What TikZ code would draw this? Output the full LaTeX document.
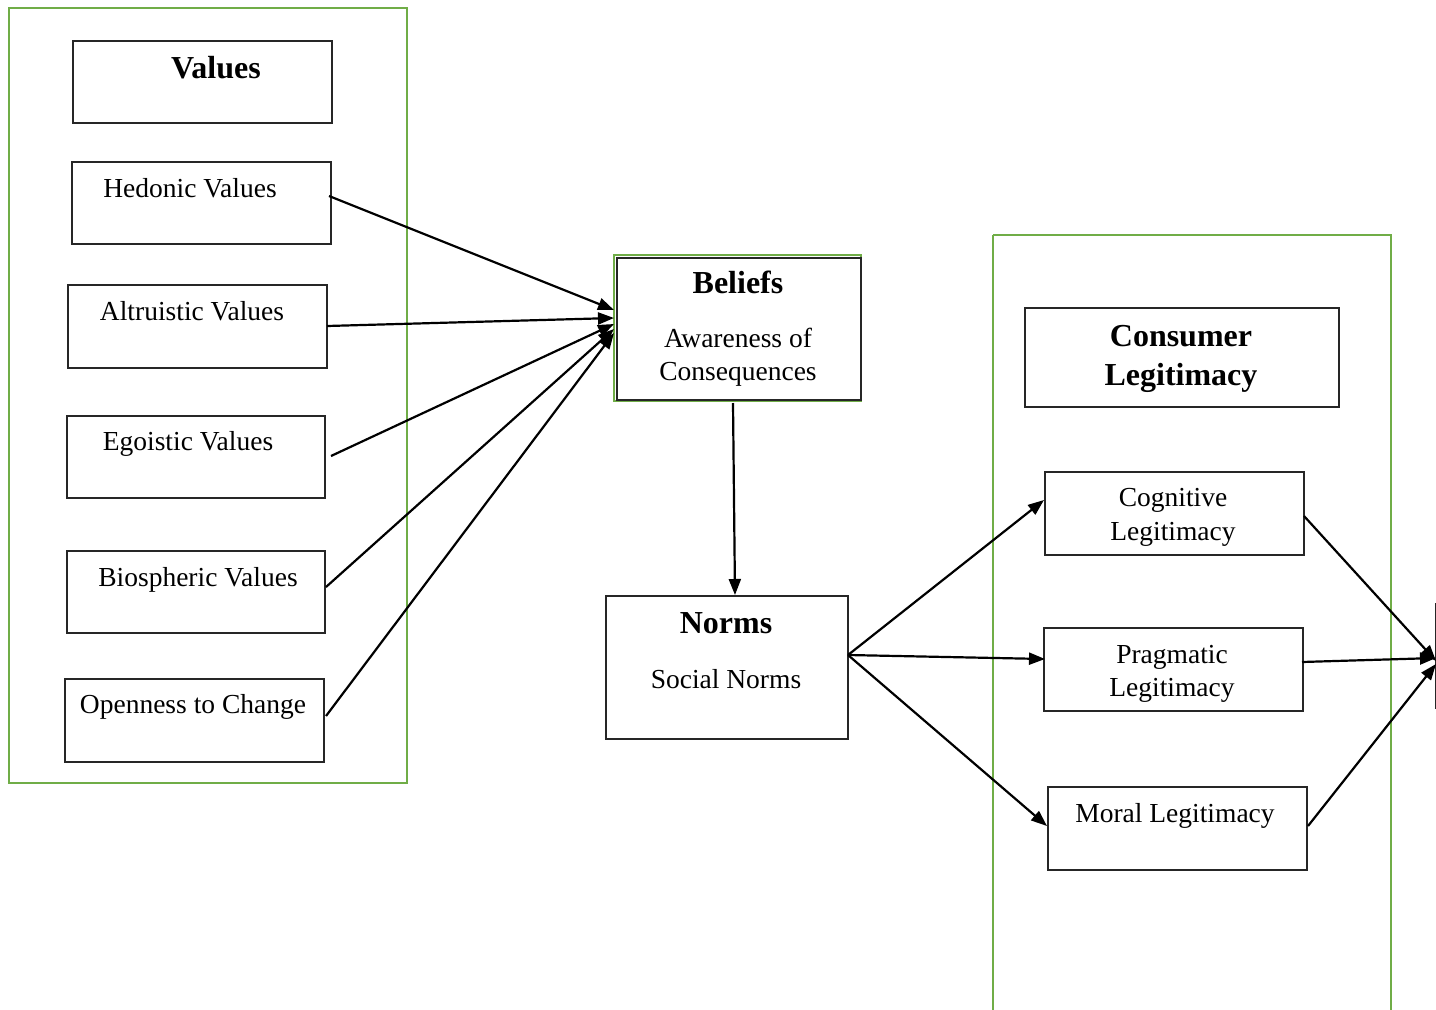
\documentclass[tikz,border=0pt]{standalone}
\usepackage{fontspec}
\setmainfont{Liberation Serif}
\usetikzlibrary{arrows.meta}
\definecolor{frame}{HTML}{70AD47}
\begin{document}
\begin{tikzpicture}[x=1pt,y=-1pt,
  box/.style={draw=black!85, line width=1.6pt, inner sep=0pt, anchor=north west, rectangle},
  group/.style={draw=frame, line width=2.6pt},
  lbl/.style={anchor=base, inner sep=0pt, font=\fontsize{27.5}{32}\selectfont},
  head/.style={anchor=base, inner sep=0pt, font=\fontsize{32}{37}\selectfont\bfseries},
  link/.style={line width=2.2pt, -{Triangle[length=16pt,width=12pt]}}
]
\useasboundingbox (0,0) rectangle (1436,1010);
\begin{scope}
\clip (0,0) rectangle (1436,1010);

% group frames
\draw[group] (9,8) rectangle (407,783);
\draw[group] (993,235) -- (993,1020) (993,235) -- (1391,235) -- (1391,1020);

% value boxes
\node[box, minimum width=259pt, minimum height=82pt] (values) at (72,40) {};
\node[head] (tvalues) at (216,78) {Values};
\node[box, minimum width=259pt, minimum height=82pt] (hed) at (71,161) {};
\node[lbl] (thed) at (190,197) {Hedonic Values};
\node[box, minimum width=259pt, minimum height=83pt] (alt) at (67,284) {};
\node[lbl] (talt) at (192,320) {Altruistic Values};
\node[box, minimum width=258pt, minimum height=82pt] (ego) at (66,415) {};
\node[lbl] (tego) at (188,450) {Egoistic Values};
\node[box, minimum width=258pt, minimum height=82pt] (bio) at (66,550) {};
\node[lbl] (tbio) at (198,586) {Biospheric Values};
\node[box, minimum width=259pt, minimum height=83pt] (open) at (64,678) {};
\node[lbl] (topen) at (193,713) {Openness to Change};

% beliefs box with green outline
\draw[frame, line width=2.4pt] (614,255) rectangle (861,401);
\node[box, minimum width=244pt, minimum height=142pt] (bel) at (616,257) {};
\node[head] (tbel) at (738,293) {Beliefs};
\node[lbl] (tbel1) at (738,347) {Awareness of};
\node[lbl] (tbel2) at (738,380) {Consequences};

% norms
\node[box, minimum width=242pt, minimum height=143pt] (norm) at (605,595) {};
\node[head] (tnorm) at (726,633) {Norms};
\node[lbl] (tnorm1) at (726,688) {Social Norms};

% legitimacy
\node[box, minimum width=314pt, minimum height=99pt] (cons) at (1024,307) {};
\node[head] (tcons1) at (1181,346) {Consumer};
\node[head] (tcons2) at (1181,385) {Legitimacy};
\node[box, minimum width=259pt, minimum height=83pt] (cog) at (1044,471) {};
\node[lbl] (tcog1) at (1173,506) {Cognitive};
\node[lbl] (tcog2) at (1173,540) {Legitimacy};
\node[box, minimum width=259pt, minimum height=83pt] (prag) at (1043,627) {};
\node[lbl] (tprag1) at (1172,663) {Pragmatic};
\node[lbl] (tprag2) at (1172,696) {Legitimacy};
\node[box, minimum width=259pt, minimum height=83pt] (mor) at (1047,786) {};
\node[lbl] (tmor) at (1175,822) {Moral Legitimacy};

% box cut by the right edge
\node[box, minimum width=80pt, minimum height=104pt] (out) at (1435,603) {};

% connector end points
\coordinate (hedo) at (329,196);
\coordinate (alto) at (327,326);
\coordinate (egoo) at (331,456);
\coordinate (bioo) at (326,587);
\coordinate (openo) at (326,716);
\coordinate (bel1) at (614,310);
\coordinate (bel2) at (614,318);
\coordinate (bel3) at (614,324);
\coordinate (bel4) at (614,329);
\coordinate (bel5) at (614,333);
\coordinate (belo) at (733,403);
\coordinate (normi) at (735,595);
\coordinate (normo) at (848,655);
\coordinate (cogi) at (1044,500);
\coordinate (pragi) at (1045,659);
\coordinate (mori) at (1047,826);
\coordinate (cogo) at (1304,516);
\coordinate (prago) at (1302,662);
\coordinate (moro) at (1308,826);
\coordinate (out1) at (1436,661);
\coordinate (out2) at (1436,658);
\coordinate (out3) at (1436,664);

\draw[link] (hedo) -- (bel1);
\draw[link] (alto) -- (bel2);
\draw[link] (egoo) -- (bel3);
\draw[link] (bioo) -- (bel4);
\draw[link] (openo) -- (bel5);
\draw[link] (belo) -- (normi);
\draw[link] (normo) -- (cogi);
\draw[link] (normo) -- (pragi);
\draw[link] (normo) -- (mori);
\draw[link] (cogo) -- (out1);
\draw[link] (prago) -- (out2);
\draw[link] (moro) -- (out3);
\end{scope}
\end{tikzpicture}
\end{document}
